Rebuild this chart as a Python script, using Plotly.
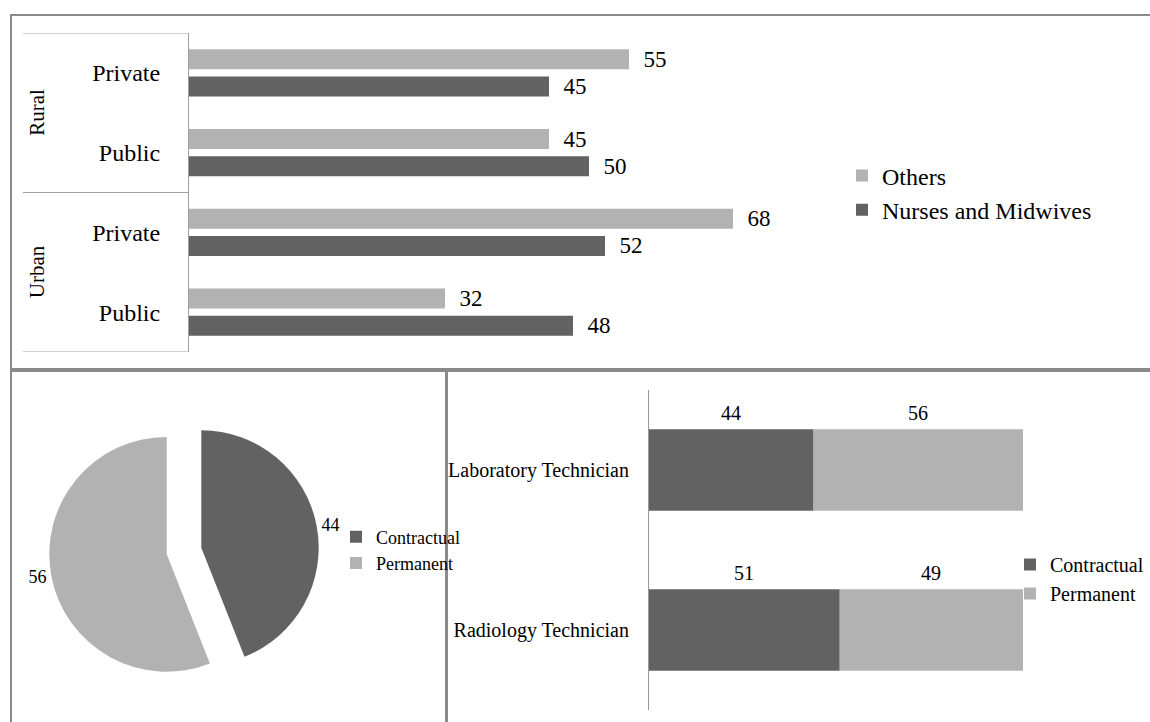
import plotly.graph_objects as go

# ---------------- data ----------------
groups = ["Rural", "Rural", "Urban", "Urban"]
sectors = ["Private", "Public", "Private", "Public"]
others = [55, 45, 68, 32]
nurses = [45, 50, 52, 48]

pie_labels = ["Contractual", "Permanent"]
pie_values = [44, 56]

techs = ["Laboratory Technician", "Radiology Technician"]
contractual = [44, 51]
permanent = [56, 49]

# ---------------- style ----------------
DARK = "#626262"
LIGHT = "#b2b2b2"
FONT = "Liberation Serif"
BORDER = "#8a8a8a"
W, H = 1150, 722


def px(x):
    return x / W


def py(y):
    return 1 - y / H


ykeys = [f"{g} {s}" for g, s in zip(groups, sectors)]

fig = go.Figure()

# top grouped horizontal bars
for name, vals, color, off in [("Others", others, LIGHT, -0.295),
                               ("Nurses and Midwives", nurses, DARK, 0.044)]:
    fig.add_trace(go.Bar(
        name=name, y=ykeys, x=vals, orientation="h",
        marker=dict(color=color, line=dict(width=0)),
        offset=off, width=0.251,
        texttemplate="\u00a0\u00a0%{x}", textposition="outside",
        constraintext="none",
        textfont=dict(family=FONT, size=23, color="#000"),
        cliponaxis=False, xaxis="x", yaxis="y", legend="legend",
    ))

# pie
fig.add_trace(go.Pie(
    labels=pie_labels, values=pie_values, sort=False,
    direction="clockwise", rotation=0, pull=[0.15, 0.15],
    marker=dict(colors=[DARK, LIGHT], line=dict(width=0)),
    textinfo="value", textposition="outside",
    textfont=dict(family=FONT, size=18, color="#000"),
    domain=dict(x=[px(184 - 135), px(184 + 135)], y=[py(551 + 135), py(551 - 135)]),
    legend="legend2", showlegend=True,
))

# bottom-right stacked bars
fig.add_trace(go.Bar(
    name="Contractual", y=techs, x=contractual, orientation="h",
    marker=dict(color=DARK, line=dict(width=0)),
    width=0.51, offset=-0.255,
    xaxis="x2", yaxis="y2", legend="legend3",
))
fig.add_trace(go.Bar(
    name="Permanent", y=techs, x=permanent, base=contractual, orientation="h",
    marker=dict(color=LIGHT, line=dict(width=0)),
    width=0.51, offset=-0.255,
    xaxis="x2", yaxis="y2", legend="legend3",
))

annotations = []
# group labels (Rural / Urban), rotated
for g in dict.fromkeys(groups):
    idx = [i for i, gg in enumerate(groups) if gg == g]
    annotations.append(dict(
        x=px(37), xref="paper", y=sum(idx) / len(idx), yref="y",
        text=g, textangle=-90, showarrow=False,
        font=dict(family=FONT, size=21, color="#000"),
        xanchor="center", yanchor="middle",
    ))

# segment value labels above stacked bars
for i, t in enumerate(techs):
    annotations.append(dict(
        x=contractual[i] / 2, xref="x2", y=t, yref="y2", yshift=57,
        text=str(contractual[i]), showarrow=False,
        font=dict(family=FONT, size=20, color="#000"),
    ))
    annotations.append(dict(
        x=contractual[i] + permanent[i] / 2, xref="x2", y=t, yref="y2", yshift=57,
        text=str(permanent[i]), showarrow=False,
        font=dict(family=FONT, size=20, color="#000"),
    ))

shapes = [
    # top panel frame
    dict(type="rect", xref="paper", yref="paper", x0=px(11), x1=px(1160),
         y0=py(369), y1=py(15), line=dict(color=BORDER, width=2)),
    # bottom-left panel frame
    dict(type="rect", xref="paper", yref="paper", x0=px(11), x1=px(446),
         y0=py(740), y1=py(371), line=dict(color=BORDER, width=2)),
    # bottom-right panel frame
    dict(type="rect", xref="paper", yref="paper", x0=px(447), x1=px(1170),
         y0=py(740), y1=py(371), line=dict(color=BORDER, width=2)),
]
# category box lines of top chart
for yv in [-0.5, 1.5, 3.5]:
    shapes.append(dict(type="line", xref="paper", yref="y", x0=px(23), x1=px(189),
                       y0=yv, y1=yv, line=dict(color="#a0a0a0", width=1)))

fig.update_layout(
    width=W, height=H,
    margin=dict(l=0, r=0, t=0, b=0, autoexpand=False),
    paper_bgcolor="white", plot_bgcolor="white",
    barmode="overlay",
    font=dict(family=FONT, color="#000"),
    xaxis=dict(domain=[px(189), px(829)], range=[0, 80], anchor="y",
               automargin=False,
               showgrid=False, zeroline=False, showticklabels=False, showline=False),
    yaxis=dict(domain=[py(352), py(33)], type="category", categoryarray=ykeys,
               range=[3.5, -0.5], anchor="x", automargin=False,
               tickvals=ykeys, ticktext=sectors,
               tickfont=dict(family=FONT, size=24, color="#000"),
               ticklabelstandoff=23,
               showgrid=False, zeroline=False, showline=True,
               linecolor="#a0a0a0", linewidth=1, ticks=""),
    xaxis2=dict(domain=[px(649), px(1023)], range=[0, 100], anchor="y2",
                automargin=False,
                showgrid=False, zeroline=False, showticklabels=False, showline=False),
    yaxis2=dict(domain=[py(710), py(390)], type="category", categoryarray=techs,
                range=[1.5, -0.5], anchor="x2", automargin=False,
                tickfont=dict(family=FONT, size=20, color="#000"),
                ticklabelstandoff=15,
                showgrid=False, zeroline=False, showline=True,
                linecolor="#999999", linewidth=1, ticks=""),
    legend=dict(x=px(842), y=py(193), xanchor="left", yanchor="middle",
                font=dict(family=FONT, size=24, color="#000"),
                bgcolor="rgba(0,0,0,0)", traceorder="normal"),
    legend2=dict(x=px(336), y=py(550), xanchor="left", yanchor="middle",
                 font=dict(family=FONT, size=18, color="#000"),
                 bgcolor="rgba(0,0,0,0)", traceorder="normal"),
    legend3=dict(x=px(1010), y=py(579), xanchor="left", yanchor="middle",
                 font=dict(family=FONT, size=20, color="#000"),
                 bgcolor="rgba(0,0,0,0)", traceorder="normal"),
    annotations=annotations,
    shapes=shapes,
)

fig.write_html("out.html")
